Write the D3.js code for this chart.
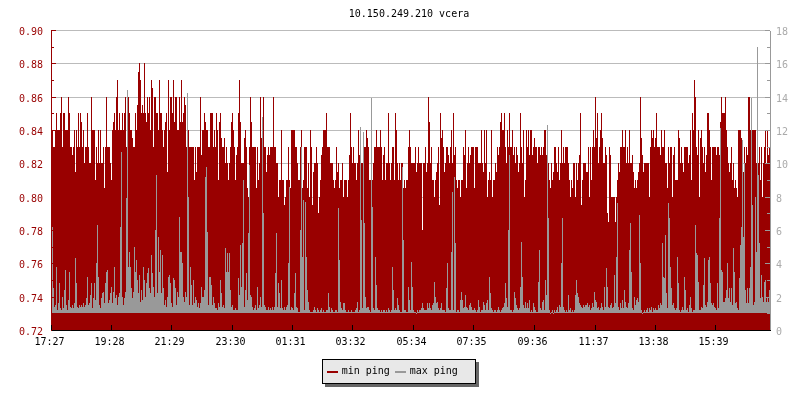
<!DOCTYPE html>
<html>
<head>
<meta charset="utf-8">
<title>10.150.249.210 vcera</title>
<script src="https://cdn.jsdelivr.net/npm/d3@7/dist/d3.min.js"></script>
<style>
html,body{margin:0;padding:0;background:#fff;}
svg{display:block;will-change:opacity;}
text{font-family:"DejaVu Sans Mono",monospace;font-size:10px;}
</style>
</head>
<body>
<div id="chart"></div>
<script>
const chartTitle = "10.150.249.210 vcera";
const seriesNames = ["min ping", "max ping"];
const timeLabels = ["17:27","19:28","21:29","23:30","01:31","03:32","05:34","07:35","09:36","11:37","13:38","15:39"];
const timeTickSamples = [0,60,120,181,241,301,362,422,483,544,604,664];

const minPingA = [.83,.84,.83,.83,.84,.85,.84,.84,.84,.85,.86,.83,.85,.85,.84,.84,.84,.86,.85,.83,
.83,.825,.83,.84,.815,.84,.83,.85,.83,.85,.845,.83,.84,.82,.83,.83,.85,.83,.82,.82,
.86,.84,.84,.84,.81,.83,.82,.84,.82,.84,.82,.82,.83,.805,.83,.86,.83,.83,.83,.82,
.81,.84,.845,.85,.84,.86,.87,.84,.85,.84,.84,.85,.84,.85,.86,.83,.84,.86,.85,.84,
.84,.835,.83,.83,.85,.84,.855,.875,.88,.87,.85,.855,.85,.88,.85,.845,.86,.85,.86,
.84,.87,.865,.83,.86,.86,.85,.85,.84,.87,.85,.85,.84,.83,.84,.845,.85,.815,.87,.84];
const minPingB = [.86,.86,.85,.87,.845,.86,.86,.84,.84,.86,.845,.87,.845,.85,.86,.855,.83,.83,.84,.83,
.83,.83,.83,.83,.81,.83,.815,.83,.83,.83,.86,.825,.84,.84,.85,.845,.84,.84,.83,.83,
.85,.85,.85,.83,.84,.83,.85,.84,.81,.845,.85,.835,.83,.83,.835,.82,.83,.82,.81,.82,
.83,.845,.85,.84,.83,.81,.825,.83,.85,.87,.845,.82,.82,.82,.835,.84,.83,.805,.80,.83,
.86,.845,.83,.83,.83,.83,.805,.83,.81,.82,.86,.835,.83,.86,.83,.83,.815,.825,.83,.825,
.83,.83,.83,.86,.83,.83,.82,.82,.80,.81,.81,.84,.81,.81,.795,.80,.81,.81,.83,.81];
const minPingC = [.805,.84,.84,.84,.84,.83,.83,.82,.81,.81,.83,.84,.805,.81,.83,.83,.83,.805,.82,.80,
.84,.83,.795,.815,.82,.82,.83,.82,.79,.80,.81,.825,.83,.84,.84,.84,.85,.83,.83,.83,
.82,.82,.82,.81,.805,.81,.83,.815,.82,.805,.81,.81,.82,.80,.81,.81,.81,.80,.81,.825,
.85,.83,.82,.83,.82,.82,.81,.82,.84,.825,.785,.82,.82,.82,.83,.83,.84,.835,.83,.81,
.81,.82,.81,.82,.83,.83,.84,.83,.83,.83,.84,.83,.81,.825,.83,.81,.82,.82,.85,.82,
.81,.82,.83,.83,.81,.85,.84,.82,.81,.82,.81,.82,.82,.805,.81,.805,.81,.81,.83,.84];
const minPingD = [.83,.82,.82,.82,.82,.83,.815,.82,.83,.82,.82,.82,.78,.82,.82,.83,.815,.82,.86,.845,
.82,.83,.81,.81,.80,.81,.815,.82,.83,.795,.85,.835,.84,.83,.815,.82,.83,.83,.825,.82,
.83,.84,.82,.85,.825,.83,.81,.805,.81,.81,.80,.81,.81,.83,.825,.84,.805,.82,.83,.82,
.825,.83,.83,.83,.805,.83,.83,.83,.82,.82,.82,.84,.82,.815,.84,.82,.84,.80,.81,.815,
.81,.84,.80,.81,.81,.82,.815,.83,.825,.83,.845,.85,.84,.84,.85,.83,.82,.84,.83,.85,
.83,.83,.84,.825,.83,.82,.83,.825,.815,.82,.85,.83,.82,.84,.80,.81,.84,.83,.84,.825];
const minPingE = [.84,.84,.825,.83,.835,.83,.83,.82,.83,.83,.825,.83,.825,.83,.84,.84,.825,.82,.82,.81,
.805,.82,.81,.815,.83,.83,.82,.815,.83,.81,.82,.84,.82,.83,.82,.83,.83,.83,.82,.81,
.80,.81,.805,.82,.82,.80,.82,.81,.82,.825,.85,.795,.81,.82,.82,.82,.815,.815,.83,.80,
.83,.81,.83,.84,.83,.86,.835,.85,.82,.83,.84,.85,.835,.82,.82,.83,.825,.79,.785,.83,
.825,.80,.80,.80,.80,.785,.80,.81,.82,.815,.83,.83,.84,.83,.83,.84,.82,.83,.82,.84,
.82,.82,.825,.815,.805,.81,.805,.81,.815,.82,.86,.835,.825,.815,.82,.82,.82,.82,.82,.80];
const minPingF = [.83,.84,.835,.84,.83,.835,.85,.83,.83,.83,.825,.84,.83,.83,.84,.82,.82,.805,.83,.82,
.83,.83,.80,.825,.83,.81,.81,.81,.84,.835,.82,.83,.82,.815,.83,.83,.83,.83,.82,.825,
.84,.81,.85,.84,.87,.86,.83,.825,.84,.80,.835,.84,.83,.82,.83,.815,.825,.85,.85,.84,
.83,.81,.83,.83,.83,.83,.825,.83,.83,.825,.845,.86,.85,.85,.85,.86,.84,.83,.82,.815,
.82,.83,.81,.82,.805,.81,.805,.80,.84,.84,.84,.835,.82,.815,.83,.82,.83,.825,.86,.86,
.84,.815,.84,.84,.84,.84,.82,.84,.82,.83,.81,.83,.80,.82,.83,.84,.82,.84,.825,.83];

const maxPingA = [11.2,6.2,2.5,1.4,1.5,3.8,1.2,1.6,2.8,1.3,1.2,2,1.3,2.4,3.6,1.5,1.2,1.8,3.5,1.4,
1.3,1.5,1.3,1.6,4.3,2.8,1.4,1.3,1.5,1.4,1.5,1.4,1.6,1.4,1.5,1.9,3.2,1.5,1.6,2.1,
2.8,1.3,1.9,2.8,1.8,4,6.3,3.2,1.5,1.3,1.9,2.2,2.3,1.6,2.8,3.5,3.6,1.6,1.8,2.2,
2.6,1.6,2.3,3.8,1.9,2.1,1.5,2,2.2,6.2,10.7,2,1.5,1.9,2.3,7.9,14.4,3.8,4.7,3.8,
2.5,1.9,2.3,5,3.5,4.2,3,2.2,3.3,1.7,2.4,1.8,3.8,3,2,2.8,3.4,3.7,2.5,2.2,
4.5,3.4,2.6,2,6,9.3,2.2,5.6,3.5,4.8,2.2,4.5,2.5,1.5,1.8,1.4,2,3.2,3.3];
const maxPingB = [2.8,1.6,1.4,3.1,3,2.5,1.5,2.3,2,6.8,4.7,4.7,4,2,1.7,2.3,2,14.2,8,1.5,
3.8,2.7,1.5,3,1.6,2,1.8,1.4,1.6,1.3,1.6,2.6,2,2,2.4,9.2,9.8,5.9,1.5,3.2,
3.2,2.7,1.5,2,1.6,1.3,1.3,1.2,1.6,1.4,3,2.2,1.4,1.5,1.3,4.9,3.5,4.6,3.5,4.6,
2.4,1.4,1.5,1.2,1.2,1.3,1.2,1.2,3.1,2.1,5.1,2.6,5.2,9,1.4,2.4,3.4,1.8,5.8,9.9,
2.1,2,1.4,1.2,1.3,1.5,1.2,2.6,1.3,1.5,2,1.4,12.8,7,1.5,1.4,1.2,1.2,1.4,1.2,
1.3,1.2,1.4,1.2,1.4,3.4,5.8,1.4,2.8,2.2,1.3,3,1.3,1.2,1.4,1.2,1.4,1.5,4,8.6];
const maxPingC = [1.2,1.4,1.3,1.2,2.2,3.4,1.4,1.3,1.1,1.1,6,11,4.4,7.8,1.2,7.7,4.4,2.4,1.7,1.2,
1.1,1.1,1.1,1.2,1.4,1.2,1.1,1.3,1.2,1.1,1.2,1.3,1.1,1.2,1.1,1.1,1.2,1.2,2.2,1.4,
1.1,1.3,1.2,1.1,1.1,1.2,1.2,1.1,7.3,4.2,1.7,1.3,1.2,1.6,1.6,1.2,1.1,1.1,1.2,1.1,
1.1,1.2,1.1,1.1,1.1,1.2,1.3,1.7,1.1,1.2,12.2,6.6,1.3,11.9,6.4,2,1.3,1.4,1.4,1.2,
1.1,13.9,7.4,1.3,1.2,4.4,2.7,1.3,1.2,1.2,1.1,1.2,1.1,1.2,1.2,1.1,1.2,1.1,1.3,1.2,
1.1,1.2,3.8,2.4,1.2,1.3,1.2,1.9,1.5,1.2,1.1,1.1,9.8,5.4,1.2,1.2,1.1,1.1,2.6,1.8];
const maxPingD = [1.2,4.1,2.6,1.2,1.1,1.1,1,1.2,1.1,1.2,1.2,1.3,1.6,1.3,1.2,1.2,1.2,1.6,1.3,1.6,
1.3,1.2,1.5,1.6,2.9,2,1.6,1.7,1.3,1.2,1.3,1.6,1.2,1.2,1.2,1.1,2.5,4,1.3,1.2,
1.2,4.7,8.3,1.2,9.2,5.2,1.1,1.2,1.2,1.1,1.8,2.3,1.8,1.3,1.4,2.1,1.4,1.3,1.2,1.5,
1.6,1.4,1.2,1.2,1.3,1.2,1.1,1.2,1.8,1.4,1.1,1.2,1.2,1.7,1.5,1.2,1.6,1.8,1.2,3.2,
2.2,1.3,1.2,1.1,1.2,1.2,1.1,1.2,1.4,1.2,1.1,1.2,1.3,1.4,1.6,2.8,1.9,1.4,6,10.5,
1.2,1.2,1.1,1.2,2.3,1.9,1.5,1.3,1.2,1.3,2.6,5.3,3.2,1.5,1.3,1.7,1.3,1.6,1.3,1.8];
const maxPingE = [1.1,1.2,1.1,1.6,1.4,1.2,1.1,1.1,2.9,4.8,1.3,1.2,1.7,1.8,1.2,3,2.1,12.3,6.7,1.2,
1,1.1,1.2,1,1.2,1.1,1.2,1.4,1.1,1.5,1.4,4,6.7,1.4,1.2,1.1,1.2,1.1,2.1,1.2,
1.3,1.1,1.2,1.1,1.2,2.1,3,2.2,2,1.6,1.5,1.4,1.3,1.5,1.4,1.5,1.5,1.6,1.4,1.5,
1.2,1.3,1.6,1.4,2.3,1.8,1.7,1.3,1.4,1.2,1.3,1.6,1.4,1.2,2.6,1.4,3.7,2.6,1.4,1.3,
1.5,1.6,1.3,1.4,3.3,1.6,4.4,7.6,1.4,1.2,1.6,1.3,1.8,1.3,2.4,1.7,1.4,1.3,1.6,4.8,
6.4,3.5,1.3,1.2,2,1.5,1.8,1.9,1.7,6.9,4,1.2,1,1.1,1.2,1.1,1.2,1.3,1.1,1.3];
const maxPingF = [1.2,1.4,1.1,1.3,1.2,1.3,1.2,1.2,1.5,1.3,1.6,1.5,5.2,3.2,3.1,5.7,2.2,1.3,7.6,6.7,
3.8,2.5,1.5,1.6,1.3,1.2,1.3,4.4,2.8,1.2,1.1,1.2,1.4,1.2,3.2,2.4,1.2,1.3,1.1,1.5,
2,1.3,1.1,1.2,1.2,6.3,4.6,4.5,2.9,1.2,1.2,1.4,1.3,2.7,4.3,1.5,1.4,1.7,4.2,4.4,
2.8,1.6,1.5,1.6,1.4,1.3,1.2,2.8,1.3,6.7,12.1,3.6,3.5,1.7,1.7,1.9,2.4,4,1.9,2.5,
1.7,2.5,1.5,4.9,3.5,1.6,1.7,1.3,1.2,3.1,5.1,6.2,11.4,5.6,10,2.4,1.6,2.5,1.6,2.5,
3.8,13.9,7.5,1.5,1.7,8,4.7,17,9.3,5.2,1.9,3.3,2,1.7,2.9,3,1.7,1.9,1.7,2.4];

const minPing = [].concat(minPingA, minPingB, minPingC, minPingD, minPingE, minPingF);
const maxPing = [].concat(maxPingA, maxPingB, maxPingC, maxPingD, maxPingE, maxPingF);
const maxPingFloor = 1.03;
const leftMajor = [0.72,0.74,0.76,0.78,0.80,0.82,0.84,0.86,0.88,0.90];
const leftMinor = [0.73,0.75,0.77,0.79,0.81,0.83,0.85,0.87,0.89];
const rightMajor = [0,2,4,6,8,10,12,14,16,18];
const rightMinor = [1,3,5,7,9,11,13,15,17];

const W = 800, H = 400;
const RED = "#990000", GREY = "#999999";
const plot = {left: 51, right: 770, top: 30, bottom: 330};

const x = d3.scaleLinear().domain([0, minPing.length]).range([plot.left, plot.right]);
const yMin = d3.scaleLinear().domain([0.72, 0.90]).range([plot.bottom, plot.top]);
const yMax = d3.scaleLinear().domain([0, 18]).range([plot.bottom, plot.top]);

const svg = d3.select("#chart").append("svg").attr("width", W).attr("height", H);

// grid
svg.append("g").selectAll("line").data(leftMajor.slice(1)).join("line")
  .attr("x1", plot.left).attr("x2", plot.right)
  .attr("y1", d => yMin(d) + 0.5).attr("y2", d => yMin(d) + 0.5)
  .attr("stroke", "#bbbbbb").attr("shape-rendering", "crispEdges");

// min ping columns
svg.append("g").attr("shape-rendering", "crispEdges").attr("fill", RED)
  .selectAll("rect").data(minPing).join("rect")
  .attr("x", (d, i) => x(i)).attr("width", (d, i) => x(i + 1) - x(i))
  .attr("y", d => yMin(d)).attr("height", d => plot.bottom - yMin(d));

// max ping columns
svg.append("g").attr("shape-rendering", "crispEdges").attr("fill", GREY)
  .selectAll("rect").data(maxPing).join("rect")
  .attr("x", (d, i) => x(i)).attr("width", (d, i) => x(i + 1) - x(i))
  .attr("y", d => yMax(d)).attr("height", d => Math.max(1, yMax(maxPingFloor) - yMax(d)));

function styleAxis(g, color, textColor) {
  g.selectAll("path,line").attr("stroke", color).attr("shape-rendering", "crispEdges");
  g.selectAll("text").attr("fill", textColor);
  g.attr("font-family", null).attr("font-size", null);
}

// left axis
svg.append("g").attr("transform", `translate(${plot.left},0)`)
  .call(d3.axisLeft(yMin).tickValues(leftMinor).tickFormat("").tickSizeInner(-3).tickSizeOuter(0))
  .call(g => styleAxis(g, RED, RED));
svg.append("g").attr("transform", `translate(${plot.left},0)`)
  .call(d3.axisLeft(yMin).tickValues(leftMajor).tickFormat(d3.format(".2f")).tickSizeInner(-5).tickSizeOuter(0).tickPadding(8))
  .call(g => styleAxis(g, RED, RED))
  .call(g => g.selectAll("text").attr("dy", "0.45em"));

// right axis
svg.append("g").attr("transform", `translate(${plot.right},0)`)
  .call(d3.axisRight(yMax).tickValues(rightMinor).tickFormat("").tickSizeInner(-3).tickSizeOuter(0))
  .call(g => styleAxis(g, GREY, GREY));
svg.append("g").attr("transform", `translate(${plot.right},0)`)
  .call(d3.axisRight(yMax).tickValues(rightMajor).tickFormat(d3.format("d")).tickSizeInner(-5).tickSizeOuter(0).tickPadding(6))
  .call(g => styleAxis(g, GREY, "#aaaaaa"))
  .call(g => g.selectAll("text").attr("dy", "0.45em"));

// bottom axis
svg.append("g").attr("transform", `translate(0,${plot.bottom})`)
  .call(d3.axisBottom(x).tickValues(timeTickSamples)
    .tickFormat((d, i) => timeLabels[i]).tickSizeInner(-5).tickSizeOuter(0).tickPadding(8))
  .call(g => styleAxis(g, "#000000", "#000000"))
  .call(g => g.selectAll("text").attr("x", -2));

// title
svg.append("text").attr("x", 409).attr("y", 17).attr("text-anchor", "middle")
  .attr("fill", "#000").text(chartTitle);

// legend
const legend = svg.append("g").attr("shape-rendering", "crispEdges");
legend.append("rect").attr("x", 325).attr("y", 362).attr("width", 154).attr("height", 25).attr("fill", "#666666");
legend.append("rect").attr("x", 322.5).attr("y", 359.5).attr("width", 153).attr("height", 24)
  .attr("fill", "#e8e8e8").attr("stroke", "#000");
const legendColors = [RED, GREY], swatchX = [327, 395];
seriesNames.forEach((name, i) => {
  legend.append("rect").attr("x", swatchX[i]).attr("y", 371).attr("width", 11).attr("height", 2).attr("fill", legendColors[i]);
  legend.append("text").attr("x", swatchX[i] + 14.7).attr("y", 374).attr("fill", "#000").text(name);
});
</script>
</body>
</html>
